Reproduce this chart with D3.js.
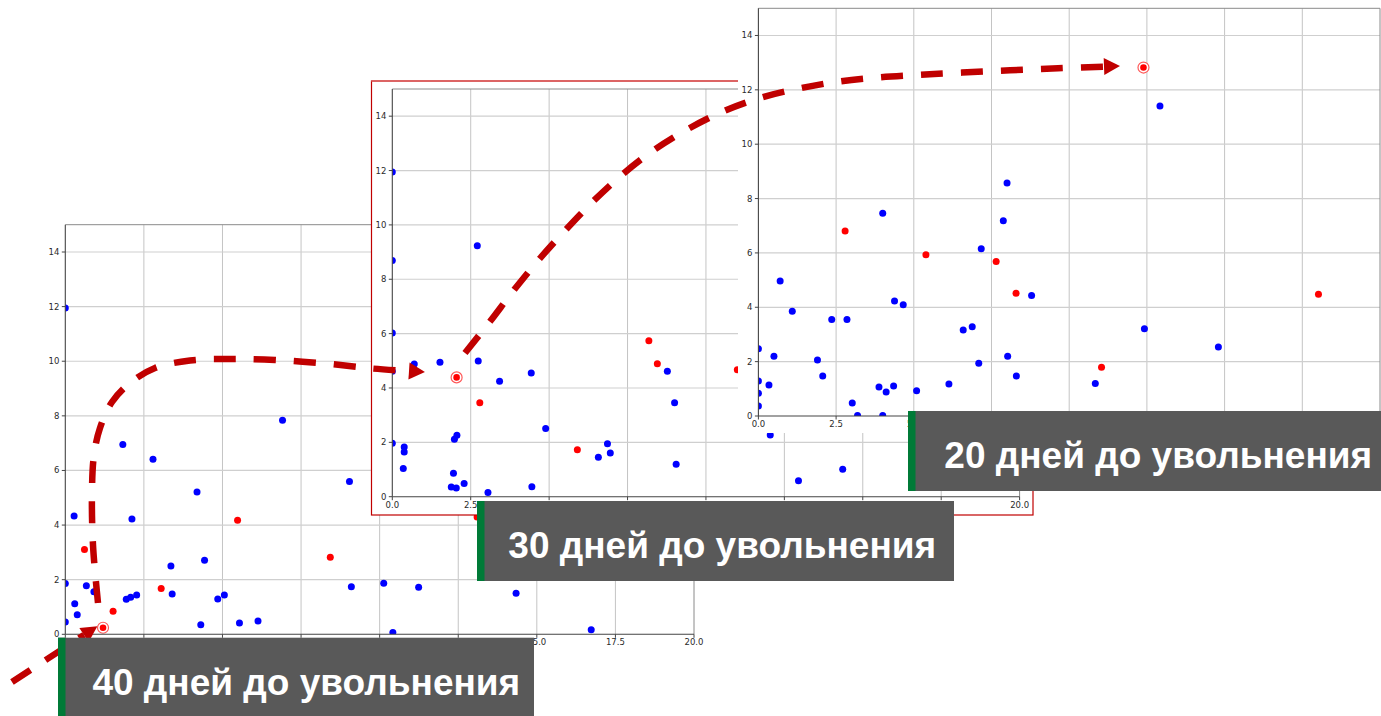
<!DOCTYPE html>
<html>
<head>
<meta charset="utf-8">
<script src="https://cdn.jsdelivr.net/npm/d3@7"></script>
<style>
  html, body { margin: 0; padding: 0; background: #fff; }
  svg { display: block; }
</style>
</head>
<body>
<div id="chart"></div>
<script>
// values, [x, y]
const blue40 = [
  [0, 11.95], [0.28, 4.33], [1.83, 6.95], [2.79, 6.41], [6.91, 7.84], [4.19, 5.21], [2.12, 4.22],
  [0, 1.86], [0.67, 1.78], [0.91, 1.56], [0.30, 1.12], [0.38, 0.72], [0, 0.45], [1.94, 1.28],
  [2.08, 1.36], [2.27, 1.44], [3.36, 2.50], [3.40, 1.48], [4.43, 2.71], [4.31, 0.35], [4.85, 1.29],
  [5.06, 1.44], [5.54, 0.41], [6.13, 0.49], [9.04, 5.60], [9.10, 1.74], [10.13, 1.87], [10.42, 0.07],
  [11.24, 1.72], [14.34, 1.50], [16.73, 0.17]
]
const red40 = [[0.61, 3.11], [1.52, 0.84], [3.05, 1.68], [5.48, 4.18], [8.43, 2.82], [13.1, 4.3]]
const target40 = [1.20, 0.24]

const blue30 = [
  [0, 11.95], [0, 8.69], [0, 6.02], [0, 4.62], [0.70, 4.88], [1.52, 4.95], [2.71, 9.23], [2.74, 4.99],
  [3.42, 4.25], [4.43, 4.55], [4.89, 2.51], [0, 1.97], [0.38, 1.83], [0.38, 1.64], [0.35, 1.04],
  [1.98, 2.11], [2.06, 2.26], [1.95, 0.86], [1.88, 0.36], [2.04, 0.32], [2.29, 0.49], [3.05, 0.15],
  [4.45, 0.37], [6.57, 1.45], [6.86, 1.95], [6.95, 1.61], [8.77, 4.62], [9.00, 3.46], [9.05, 1.19],
  [12.05, 2.27], [12.95, 0.59], [14.36, 1.01]
]
const red30 = [[2.79, 3.46], [5.90, 1.73], [8.18, 5.74], [8.45, 4.89], [11.0, 4.67]]
const target30 = [2.05, 4.39]

const blue20 = [
  [0, 2.47], [0, 1.29], [0, 0.84], [0, 0.37], [0.34, 1.14], [0.50, 2.20], [0.70, 4.97], [1.09, 3.85],
  [1.90, 2.06], [2.07, 1.47], [2.36, 3.55], [2.85, 3.55], [3.02, 0.48], [3.19, 0.02], [3.88, 1.07],
  [4.00, 7.46], [4.11, 0.88], [4.00, 0.02], [4.35, 1.10], [4.38, 4.23], [4.66, 4.09], [5.09, 0.93],
  [6.13, 1.18], [6.59, 3.16], [6.88, 3.28], [7.09, 1.94], [7.17, 6.15], [7.88, 7.18], [8.00, 8.57],
  [8.02, 2.20], [8.30, 1.47], [8.79, 4.43], [10.84, 1.20], [12.42, 3.21], [12.92, 11.41], [14.80, 2.54]
]
const red20 = [[2.79, 6.81], [5.39, 5.93], [7.65, 5.68], [8.29, 4.52], [11.04, 1.79], [18.02, 4.48]]
const target20 = [12.39, 12.82]

const xTicks = [0, 2.5, 5, 7.5, 10, 12.5, 15, 17.5, 20]
const yTicks = [0, 2, 4, 6, 8, 10, 12, 14]
const xDomain = [0, 20]
const yDomain = [0, 15]
const labelTexts = ['40 дней до увольнения', '30 дней до увольнения', '20 дней до увольнения']

// layout (page pixels)
const width = 1381, height = 716
const panels = [
  {left: 65.3, right: 694, top: 224.7, bottom: 634.3, frame: null,
   blue: blue40, red: red40, target: target40},
  {left: 392.3, right: 1019.6, top: 89, bottom: 496.7,
   frame: {x: 371.5, y: 81, w: 661.5, h: 434, stroke: '#c00000', topStroke: '#dc6464'},
   blue: blue30, red: red30, target: target30},
  {left: 758.4, right: 1380, top: 8.3, bottom: 416,
   frame: {x: 738, y: 0, w: 643, h: 433, stroke: 'none'},
   blue: blue20, red: red20, target: target20}
]
const arrows = [
  [[12, 682], [84, 635]],
  [[98, 603], [93, 545], [92, 490], [94, 455], [100, 428], [112, 402], [130, 383], [155, 368],
   [190, 360.5], [230, 359], [275, 360], [325, 363.5], [372, 368.5], [409, 371]],
  [[465, 353], [490, 321.5], [514, 290], [539, 259.5], [566, 229.5], [594, 200.5], [623, 174],
   [654, 150], [688, 129], [723, 111.5], [760, 98], [799, 88.5], [838, 81.7], [878, 77.5],
   [920, 74.8], [962, 72.6], [1010, 70.3], [1058, 68.3], [1104, 66.6]]
]
const boxes = [
  {x: 58, y: 637.7, w: 476, h: 80, tx: 92.4, ty: 695},
  {x: 477, y: 501, w: 477, h: 80, tx: 508.3, ty: 558.3},
  {x: 908, y: 411, w: 475, h: 80, tx: 944.3, ty: 468.3}
]
const arrowColor = '#c00000'

const svg = d3.select('#chart').append('svg')
  .attr('width', width)
  .attr('height', height)

svg.append('rect').attr('width', width).attr('height', height).attr('fill', '#fff')

panels.forEach(function (p, i) {
  const g = svg.append('g').attr('class', 'panel')

  if (p.frame) {
    g.append('rect')
      .attr('x', p.frame.x).attr('y', p.frame.y)
      .attr('width', p.frame.w).attr('height', p.frame.h)
      .attr('fill', '#fff')
      .attr('stroke', p.frame.stroke)
      .attr('stroke-width', 1.2)
    if (p.frame.topStroke) {
      g.append('line')
        .attr('x1', p.frame.x).attr('x2', p.frame.x + p.frame.w)
        .attr('y1', p.frame.y).attr('y2', p.frame.y)
        .attr('stroke', p.frame.topStroke).attr('stroke-width', 1.8)
    }
  }

  const x = d3.scaleLinear().domain(xDomain).range([p.left, p.right])
  const y = d3.scaleLinear().domain(yDomain).range([p.bottom, p.top])

  // grid
  g.append('g').selectAll('line').data(xTicks.slice(1, -1)).enter().append('line')
    .attr('x1', d => x(d)).attr('x2', d => x(d))
    .attr('y1', p.top).attr('y2', p.bottom)
    .attr('stroke', '#c4c4c4').attr('stroke-width', 1)
  g.append('g').selectAll('line').data(yTicks.slice(1)).enter().append('line')
    .attr('y1', d => y(d)).attr('y2', d => y(d))
    .attr('x1', p.left).attr('x2', p.right)
    .attr('stroke', '#cfcfcf').attr('stroke-width', 1.2)

  // markers clipped to the axes box like matplotlib does
  const clipId = 'clip' + i
  g.append('clipPath').attr('id', clipId).append('rect')
    .attr('x', p.left).attr('y', p.top)
    .attr('width', p.right - p.left).attr('height', p.bottom - p.top)
  const dots = g.append('g').attr('clip-path', `url(#${clipId})`)

  dots.selectAll('.b').data(p.blue).enter().append('circle')
    .attr('class', 'b')
    .attr('cx', d => x(d[0])).attr('cy', d => y(d[1]))
    .attr('r', 3.5).attr('fill', '#0000ff')
  dots.selectAll('.r').data(p.red).enter().append('circle')
    .attr('class', 'r')
    .attr('cx', d => x(d[0])).attr('cy', d => y(d[1]))
    .attr('r', 3.5).attr('fill', '#ff0000')
  dots.append('circle')
    .attr('cx', x(p.target[0])).attr('cy', y(p.target[1]))
    .attr('r', 5.5).attr('fill', '#fff')
    .attr('stroke', '#ff5a5a').attr('stroke-width', 1.2)
  dots.append('circle')
    .attr('cx', x(p.target[0])).attr('cy', y(p.target[1]))
    .attr('r', 3.3).attr('fill', '#ff0000')

  // spines
  g.append('line').attr('x1', p.left).attr('x2', p.right).attr('y1', p.top).attr('y2', p.top)
    .attr('stroke', '#8a8a8a').attr('stroke-width', 1)
  g.append('line').attr('x1', p.right).attr('x2', p.right).attr('y1', p.top).attr('y2', p.bottom)
    .attr('stroke', '#8a8a8a').attr('stroke-width', 1)
  g.append('line').attr('x1', p.left).attr('x2', p.left).attr('y1', p.top).attr('y2', p.bottom)
    .attr('stroke', '#444').attr('stroke-width', 1.1)
  g.append('line').attr('x1', p.left).attr('x2', p.right).attr('y1', p.bottom).attr('y2', p.bottom)
    .attr('stroke', '#444').attr('stroke-width', 1.1)

  // ticks + labels (labels that would fall off the page are left out)
  const xt = g.append('g').selectAll('g').data(xTicks).enter().append('g')
    .attr('transform', d => `translate(${x(d)},${p.bottom})`)
  xt.append('line').attr('y1', 0).attr('y2', 3.5).attr('stroke', '#444')
  xt.filter(d => x(d) + 12 < width).append('text')
    .attr('y', 8).attr('dy', '0.36em')
    .attr('text-anchor', 'middle')
    .attr('font-family', 'DejaVu Sans, sans-serif').attr('font-size', 8.5)
    .attr('fill', '#2a2a2a')
    .text(d => d.toFixed(1))

  const yt = g.append('g').selectAll('g').data(yTicks).enter().append('g')
    .attr('transform', d => `translate(${p.left},${y(d)})`)
  yt.append('line').attr('x1', 0).attr('x2', -3.5).attr('stroke', '#444')
  yt.append('text')
    .attr('x', -6).attr('dy', '0.35em')
    .attr('text-anchor', 'end')
    .attr('font-family', 'DejaVu Sans, sans-serif').attr('font-size', 8.5)
    .attr('fill', '#2a2a2a')
    .text(d => d)
})

// dashed arrows on top of the screenshots
const line = d3.line().curve(d3.curveCatmullRom.alpha(0.5))
const arrowG = svg.append('g').attr('class', 'arrows')
arrows.forEach(function (pts) {
  arrowG.append('path')
    .attr('d', line(pts))
    .attr('fill', 'none')
    .attr('stroke', arrowColor)
    .attr('stroke-width', 6.5)
    .attr('stroke-dasharray', '22,18')

  const a = pts[pts.length - 2], b = pts[pts.length - 1]
  const len = Math.hypot(b[0] - a[0], b[1] - a[1])
  const ux = (b[0] - a[0]) / len, uy = (b[1] - a[1]) / len
  const headLen = 16, headHalf = 8.5
  const tip = [b[0] + ux * headLen, b[1] + uy * headLen]
  const p1 = [b[0] - uy * headHalf, b[1] + ux * headHalf]
  const p2 = [b[0] + uy * headHalf, b[1] - ux * headHalf]
  arrowG.append('polygon')
    .attr('points', [tip, p1, p2].map(d => d.join(',')).join(' '))
    .attr('fill', arrowColor)
})

// caption boxes
const boxG = svg.append('g').attr('class', 'labels')
boxes.forEach(function (b, i) {
  boxG.append('rect')
    .attr('x', b.x).attr('y', b.y).attr('width', b.w).attr('height', b.h)
    .attr('fill', '#595959')
  boxG.append('rect')
    .attr('x', b.x).attr('y', b.y).attr('width', 7.5).attr('height', b.h)
    .attr('fill', '#007a37')
  const t = boxG.append('text')
    .attr('x', b.tx).attr('y', b.ty)
    .attr('font-family', 'Liberation Sans, Arial, sans-serif')
    .attr('font-weight', 'bold')
    .attr('font-size', 37.5)
    .attr('fill', '#fff')
    .text(labelTexts[i])
  const w = t.node().getComputedTextLength()
  if (w > 0) t.attr('font-size', 37.5 * 428 / w)
})
</script>
</body>
</html>
